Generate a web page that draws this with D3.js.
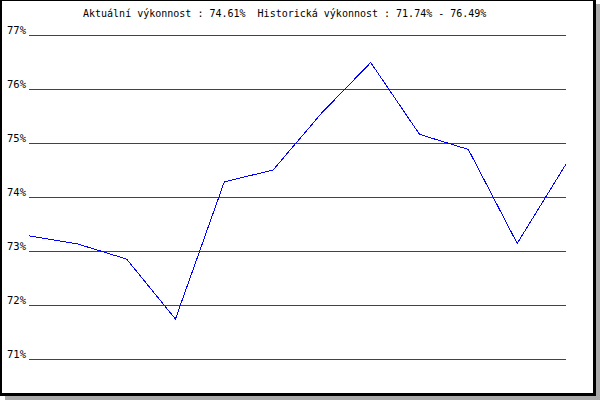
<!DOCTYPE html>
<html><head><meta charset="utf-8">
<script src="https://cdnjs.cloudflare.com/ajax/libs/d3/7.8.5/d3.min.js"></script>
<style>html,body{margin:0;padding:0;background:#fff;}svg{display:block;}</style>
</head><body>
<script>
const titleText = "Aktuální výkonnost : 74.61%  Historická výkonnost : 71.74% - 76.49%";
const yTicks = [71, 72, 73, 74, 75, 76, 77];
const yTickLabels = ["71%", "72%", "73%", "74%", "75%", "76%", "77%"];
const points = [1, 2, 3, 4, 5, 6, 7, 8, 9, 10, 11, 12];
const values = [73.28, 73.13, 72.85, 71.74, 74.28, 74.50, 75.56, 76.49, 75.16, 74.88, 73.14, 74.61];

const W = 600, H = 400;
const svg = d3.select("body").append("svg").attr("width", W).attr("height", H);

// frame with shadow
svg.append("rect").attr("x", 5).attr("y", 4).attr("width", W - 5).attr("height", H - 4).attr("fill", "#aaaaaa");
svg.append("rect").attr("x", 0).attr("y", 0).attr("width", 596).attr("height", 396).attr("fill", "#000");
svg.append("rect").attr("x", 2).attr("y", 1).attr("width", 591).attr("height", 392).attr("fill", "#fff");

const y = d3.scaleLinear().domain([71, 77]).range([359, 35]);
const x = d3.scalePoint().domain(points).range([29, 566]);

// gridlines
svg.append("g").selectAll("line").data(yTicks).join("line")
  .attr("x1", 29).attr("x2", 566)
  .attr("y1", d => Math.round(y(d)) + 0.5).attr("y2", d => Math.round(y(d)) + 0.5)
  .attr("stroke", "#e00000").attr("stroke-width", 1).attr("shape-rendering", "crispEdges");

// y labels
svg.append("g").selectAll("text").data(yTicks).join("text")
  .attr("x", 26).attr("y", d => Math.round(y(d)) - 1)
  .attr("text-anchor", "end")
  .attr("font-family", "DejaVu Sans Mono, monospace").attr("font-size", 10.5)
  .attr("fill", "#000")
  .text((d, i) => yTickLabels[i]);

// title
svg.append("text").attr("x", 83).attr("y", 17)
  .attr("font-family", "DejaVu Sans Mono, monospace").attr("font-size", 10)
  .attr("fill", "#000").attr("xml:space", "preserve")
  .style("white-space", "pre")
  .text(titleText);

// line
const line = d3.line().x((d, i) => x(points[i])).y(d => y(d));
svg.append("path").datum(values).attr("d", line)
  .attr("fill", "none").attr("stroke", "#0000ff").attr("stroke-width", 1)
  .attr("shape-rendering", "crispEdges");
</script>
</body></html>
